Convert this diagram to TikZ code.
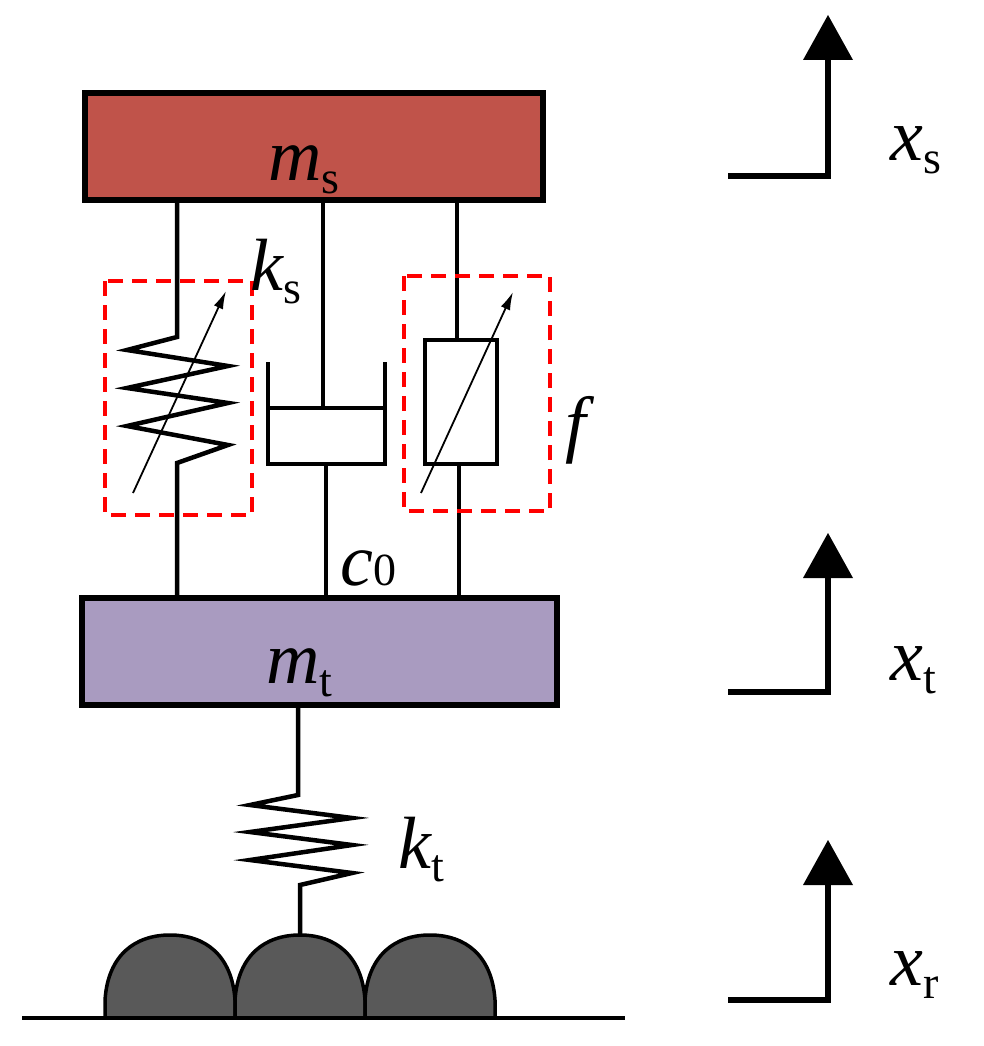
\documentclass[tikz,border=0pt]{standalone}
\usepackage{fontspec}
\setmainfont{Liberation Serif}
\newfontfamily\tnr{Liberation Serif}
\newcommand{\lab}[2]{{\tnr\fontsize{74}{74}\selectfont\itshape #1}{\tnr\fontsize{46}{46}\selectfont\raisebox{-0.3em}{#2}}}
\definecolor{msred}{HTML}{C0534A}
\definecolor{mtpur}{HTML}{A99BC0}
\definecolor{hump}{HTML}{595959}
\usetikzlibrary{arrows.meta}
\begin{document}
\begin{tikzpicture}[x=1pt,y=-1pt,
  thick line/.style={line width=4.5pt},
  mass/.style={line width=5.5pt},
  redbox/.style={red,line width=3.5pt,dash pattern=on 15pt off 9pt},
  var/.style={line width=1.8pt,-{Latex[length=18pt,width=10pt]}},
  lbl/.style={inner sep=0pt,anchor=base west}]
\useasboundingbox (0,0) rectangle (984,1046);
% masses
\draw[mass,fill=msred] (85,93) rectangle (543,200);
\draw[mass,fill=mtpur] (82,598) rectangle (557,705);
\node[lbl] (ms) at (268,180) {\lab{m}{s}};
\node[lbl] (mt) at (266,683) {\lab{m}{t}};
% suspension spring
\draw[thick line,line join=miter] (177,200) -- (177,337) -- (127,350) -- (228,366) -- (127,388) -- (228,403) -- (127,426) -- (228,445) -- (177,463) -- (177,598);
\draw[var] (133,493) -- (226,291);
\draw[redbox] (105,281) rectangle (252,515);
\node[lbl] (ks) at (250,290) {\lab{k}{s}};
% damper c0
\draw[thick line] (323,200) -- (323,408);
\draw[thick line] (268,362) -- (268,464) -- (385,464) -- (385,362);
\draw[thick line] (268,408) -- (385,408);
\draw[thick line] (326,464) -- (326,598);
\node[lbl] (c0) at (340,585) {{\tnr\fontsize{74}{74}\selectfont\itshape c}{\tnr\fontsize{46}{46}\selectfont\raisebox{-0.02em}{0}}};
% controllable damper f
\draw[thick line] (457,200) -- (457,340);
\draw[thick line] (425,340) rectangle (497,464);
\draw[thick line] (459,464) -- (459,598);
\draw[var] (421,493) -- (513,292);
\draw[redbox] (404,276) rectangle (550,511);
\node[lbl] (f) at (565,448) {{\tnr\fontsize{74}{74}\selectfont\itshape f}};
% tire spring
\draw[thick line] (298,705) -- (298,795) -- (250,805) -- (352,818) -- (250,832) -- (352,845) -- (250,860) -- (352,873) -- (300,885) -- (300,952);
\node[lbl] (kt) at (398,868) {\lab{k}{t}};
% road humps
\foreach \c in {170,300,430}{
  \draw[line width=3.5pt,fill=hump] (\c-65,1018) -- (\c-65,1000) .. controls (\c-62,955) and (\c-35,935) .. (\c,935) .. controls (\c+35,935) and (\c+62,955) .. (\c+65,1000) -- (\c+65,1018);
}
\draw[line width=4pt] (22,1018) -- (625,1018);
% displacement indicators
\foreach \yb/\yt/\n/\s/\ly in {176/15/x/s/160, 692/533/x/t/680, 1000/840/x/r/985}{
  \draw[line width=5.5pt] (728,\yb) -- (828,\yb) -- (828,\yt+40);
  \fill (803,\yt+45) -- (828,\yt) -- (853,\yt+45) -- cycle;
  \node[lbl] at (890,\ly) {\lab{\n}{\s}};
}
\end{tikzpicture}
\end{document}
